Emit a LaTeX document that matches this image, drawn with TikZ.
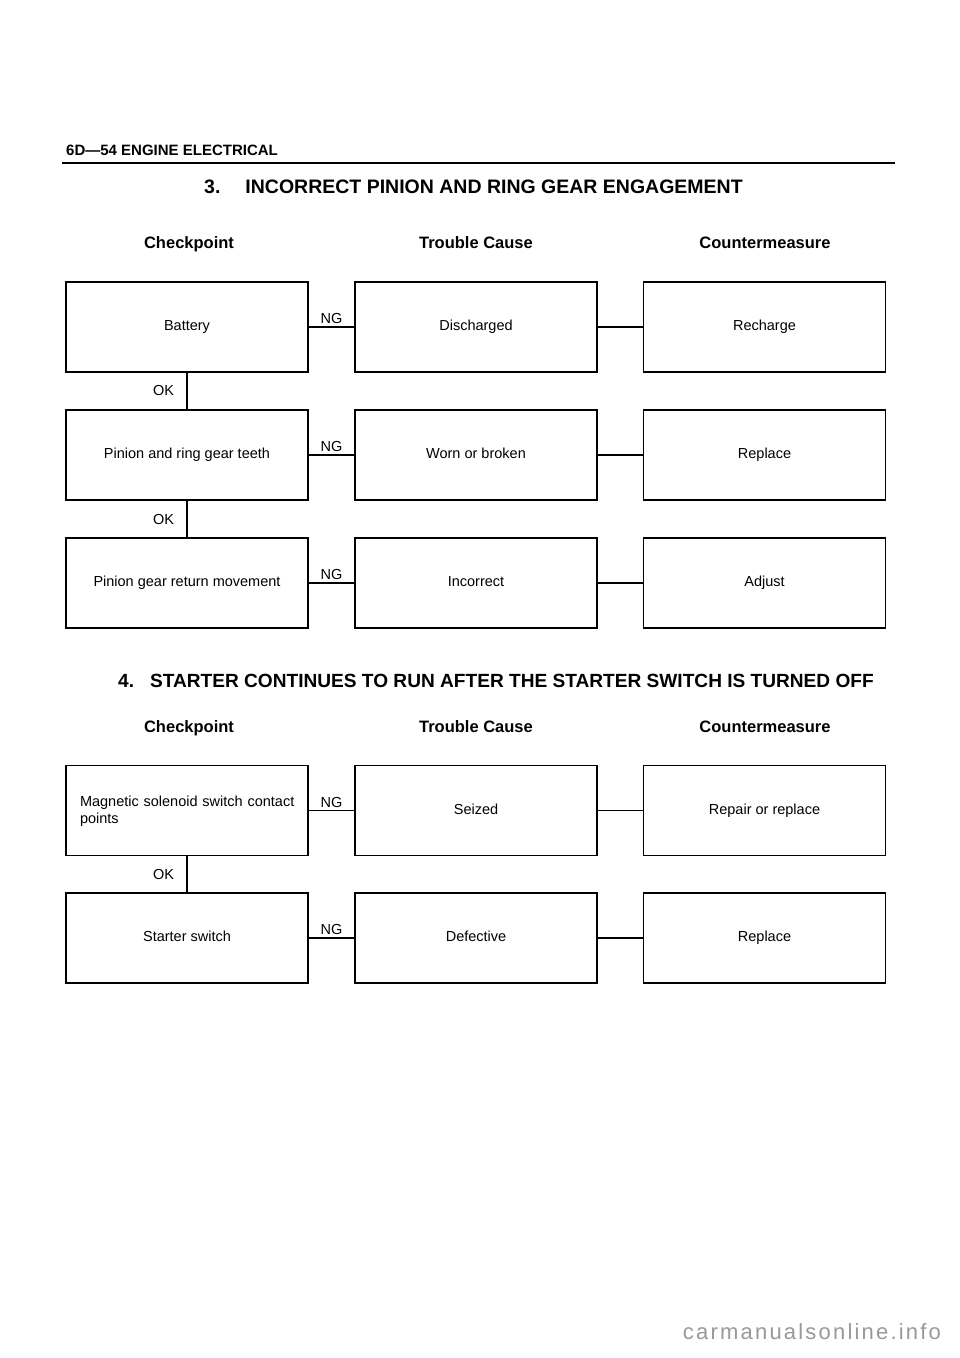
\documentclass[tikz,border=0pt]{standalone}
\usepackage{fontspec}
\setmainfont{Liberation Sans}
\usetikzlibrary{positioning}

\begin{document}
\begin{tikzpicture}[
  x=1pt,y=-1pt,
  box/.style={draw, line width=1.1pt, minimum width=242pt, minimum height=90pt, align=center, font=\fontsize{14.5}{17.5}\selectfont, inner sep=0pt, execute at begin node=\strut},
  lbox/.style={box, align=left, text width=214pt},
  colhead/.style={font=\bfseries\fontsize{16.5}{20}\selectfont, anchor=base, inner sep=0pt},
  title/.style={font=\bfseries\fontsize{19.5}{23}\selectfont, anchor=base west, inner sep=0pt},
  tag/.style={font=\fontsize{14.5}{17}\selectfont, inner sep=2.5pt},
  link/.style={line width=1.1pt}
]
\useasboundingbox[fill=white] (0,0) rectangle (960,1358);

% page header
\node[font=\bfseries\fontsize{15}{18}\selectfont, anchor=base west, inner sep=0pt] (pagehead) at (66,155) {6D—54 ENGINE ELECTRICAL};
\coordinate (rulel) at (62,163);
\coordinate (ruler) at (895,163);
\draw[line width=2.6pt] (rulel) -- (ruler);

% section 3
\node[title] (sec3) at (204,193) {3.\hspace{25pt}INCORRECT PINION AND RING GEAR ENGAGEMENT};
\node[colhead] (chk3) at (189,248) {Checkpoint};
\node[colhead] (cau3) at (476,248) {Trouble Cause};
\node[colhead] (cnt3) at (765,248) {Countermeasure};

\node[box] (battery) at (187,327) {Battery};
\node[box] (discharged) at (476,327) {Discharged};
\node[box] (recharge) at (764.5,327) {Recharge};

\node[box] (teeth) at (187,455) {Pinion and ring gear teeth};
\node[box] (worn) at (476,455) {Worn or broken};
\node[box] (replace3) at (764.5,455) {Replace};

\node[box] (retmove) at (187,583) {Pinion gear return movement};
\node[box] (incorrect) at (476,583) {Incorrect};
\node[box] (adjust) at (764.5,583) {Adjust};

\draw[link] (battery) -- node[tag, above] {NG} (discharged);
\draw[link] (discharged) -- (recharge);
\draw[link] (battery) -- node[tag, left=10pt] {OK} (teeth);
\draw[link] (teeth) -- node[tag, above] {NG} (worn);
\draw[link] (worn) -- (replace3);
\draw[link] (teeth) -- node[tag, left=10pt] {OK} (retmove);
\draw[link] (retmove) -- node[tag, above] {NG} (incorrect);
\draw[link] (incorrect) -- (adjust);

% section 4
\node[title, font=\bfseries\fontsize{19.1}{23}\selectfont] (sec4) at (118,687) {4.\hspace{16pt}STARTER CONTINUES TO RUN AFTER THE STARTER SWITCH IS TURNED OFF};
\node[colhead] (chk4) at (189,732) {Checkpoint};
\node[colhead] (cau4) at (476,732) {Trouble Cause};
\node[colhead] (cnt4) at (765,732) {Countermeasure};

\node[lbox] (solenoid) at (187,810.5) {\mbox{Magnetic solenoid switch contact}\\points};
\node[box] (seized) at (476,810.5) {Seized};
\node[box] (repair) at (764.5,810.5) {Repair or replace};

\node[box] (stswitch) at (187,938) {Starter switch};
\node[box] (defective) at (476,938) {Defective};
\node[box] (replace4) at (764.5,938) {Replace};

\draw[link] (solenoid) -- node[tag, above] {NG} (seized);
\draw[link] (seized) -- (repair);
\draw[link] (solenoid) -- node[tag, left=10pt] {OK} (stswitch);
\draw[link] (stswitch) -- node[tag, above] {NG} (defective);
\draw[link] (defective) -- (replace4);

% watermark
\node[font=\addfontfeature{LetterSpace=10}\fontsize{22}{26}\selectfont, text=black!40, anchor=base, inner sep=0pt] (mark) at (812,1339) {carmanualsonline.info};
\end{tikzpicture}
\end{document}
